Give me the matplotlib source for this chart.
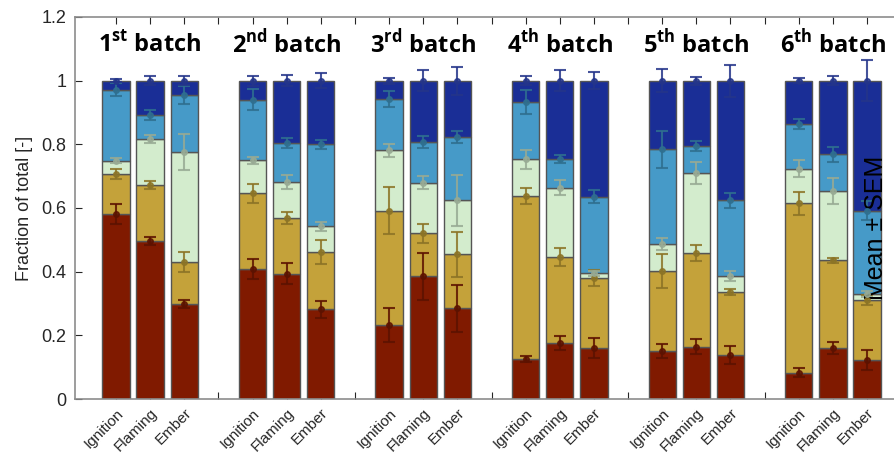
import numpy as np
import matplotlib
matplotlib.use('Agg')
import matplotlib.pyplot as plt
import matplotlib.transforms as mtrans

plt.rcParams['font.family'] = ['Liberation Sans', 'DejaVu Sans']
plt.rcParams['mathtext.fontset'] = 'custom'
plt.rcParams['mathtext.rm'] = 'Open Sans'
plt.rcParams['mathtext.bf'] = 'Open Sans:bold'

# 批次与阶段
batches = ['1$^{\\mathbf{st}}$ batch', '2$^{\\mathbf{nd}}$ batch', '3$^{\\mathbf{rd}}$ batch',
           '4$^{\\mathbf{th}}$ batch', '5$^{\\mathbf{th}}$ batch', '6$^{\\mathbf{th}}$ batch']
phases = ['Ignition', 'Flaming', 'Ember']

# 累积分数（每段顶端），顺序：批次1 Ignition/Flaming/Ember, 批次2 ...
cum_red = [0.581, 0.496, 0.299, 0.408, 0.394, 0.282, 0.232, 0.385, 0.285,
           0.126, 0.175, 0.160, 0.151, 0.164, 0.139, 0.083, 0.160, 0.123]
cum_gold = [0.708, 0.672, 0.431, 0.646, 0.568, 0.461, 0.592, 0.520, 0.454,
            0.637, 0.445, 0.380, 0.403, 0.458, 0.335, 0.615, 0.436, 0.311]
cum_lgreen = [0.749, 0.816, 0.776, 0.750, 0.681, 0.542, 0.781, 0.680, 0.624,
              0.753, 0.664, 0.395, 0.486, 0.709, 0.387, 0.724, 0.654, 0.329]
cum_blue = [0.972, 0.892, 0.956, 0.940, 0.805, 0.800, 0.943, 0.807, 0.823,
            0.934, 0.753, 0.636, 0.784, 0.795, 0.624, 0.863, 0.769, 0.592]
cum_dblue = [1.0] * 18

# SEM
sem_red = [0.030, 0.012, 0.012, 0.032, 0.034, 0.027, 0.054, 0.073, 0.074,
           0.010, 0.022, 0.031, 0.022, 0.023, 0.029, 0.015, 0.018, 0.032]
sem_gold = [0.016, 0.012, 0.032, 0.030, 0.019, 0.037, 0.074, 0.031, 0.071,
            0.025, 0.028, 0.026, 0.053, 0.026, 0.009, 0.036, 0.008, 0.016]
sem_lgreen = [0.008, 0.012, 0.057, 0.011, 0.022, 0.015, 0.020, 0.019, 0.080,
              0.029, 0.023, 0.008, 0.019, 0.034, 0.015, 0.027, 0.041, 0.009]
sem_blue = [0.020, 0.015, 0.028, 0.033, 0.016, 0.015, 0.025, 0.020, 0.020,
            0.038, 0.012, 0.021, 0.058, 0.015, 0.023, 0.016, 0.023, 0.030]
sem_dblue = [0.004, 0.014, 0.014, 0.016, 0.018, 0.023, 0.009, 0.033, 0.044,
             0.015, 0.033, 0.027, 0.036, 0.013, 0.050, 0.007, 0.015, 0.065]

cums = [cum_red, cum_gold, cum_lgreen, cum_blue, cum_dblue]
sems = [sem_red, sem_gold, sem_lgreen, sem_blue, sem_dblue]
colors = ['#801a00', '#c4a23a', '#d3eccd', '#469ac8', '#1a2e96']
ecolors = ['#5c1200', '#8c7426', '#98aa94', '#2f6f8f', '#24358a']

x = np.array([1 + 4 * b + j for b in range(6) for j in range(3)])

fig = plt.figure(figsize=(8.95, 4.55), dpi=100)
ax = fig.add_axes([75 / 895, 56 / 455, 833 / 895, 382 / 455])

bottom = np.zeros(18)
for c, col in zip(cums, colors):
    c = np.array(c)
    ax.bar(x, c - bottom, 0.8, bottom=bottom, color=col, edgecolor='#555555', linewidth=1, zorder=2)
    bottom = c

for c, s, ec in zip(cums, sems, ecolors):
    ax.errorbar(x, c, yerr=s, fmt='o', ms=4, color=ec, ecolor=ec, elinewidth=1.5,
                capsize=4.5, capthick=1.5, alpha=0.85, zorder=3)

for b, name in enumerate(batches):
    ax.text(2 + 4 * b, 1.112, name, ha='center', va='center', fontsize=17,
            fontweight='bold', family='Open Sans')

ax.text(23.25, 0.537, 'Mean \u00b1 SEM', rotation=90, ha='center', va='center', fontsize=18)

ticks = np.arange(1, 24)
labels = [phases[(t - 1) % 4] if (t % 4) != 0 else '' for t in ticks]
ax.set_xticks(ticks)
ax.set_xticklabels(labels, rotation=45, ha='right', va='top', rotation_mode='anchor', fontsize=11,
                   color='#262626')
shift = mtrans.ScaledTranslation(9 / 100, 0, fig.dpi_scale_trans)
for lab in ax.get_xticklabels():
    lab.set_transform(lab.get_transform() + shift)
ax.set_xlim(-0.2, 24.2)
ax.set_ylim(0, 1.2)
ax.set_yticks([0, 0.2, 0.4, 0.6, 0.8, 1.0, 1.2])
ax.set_yticklabels(['0', '0.2', '0.4', '0.6', '0.8', '1', '1.2'], fontsize=13, color='#262626')
ax.tick_params(axis='both', direction='in', length=5, color='#262626')
ax.tick_params(axis='x', top=True, pad=5)
ax.tick_params(axis='y', pad=6)
ax.set_ylabel('Fraction of total [-]', fontsize=13, color='#262626', labelpad=6)
for sp in ax.spines.values():
    sp.set_color('#8c8c8c')
    sp.set_linewidth(1.2)
ax.spines['right'].set_visible(False)

plt.savefig('out.png', dpi=100)
plt.close()
